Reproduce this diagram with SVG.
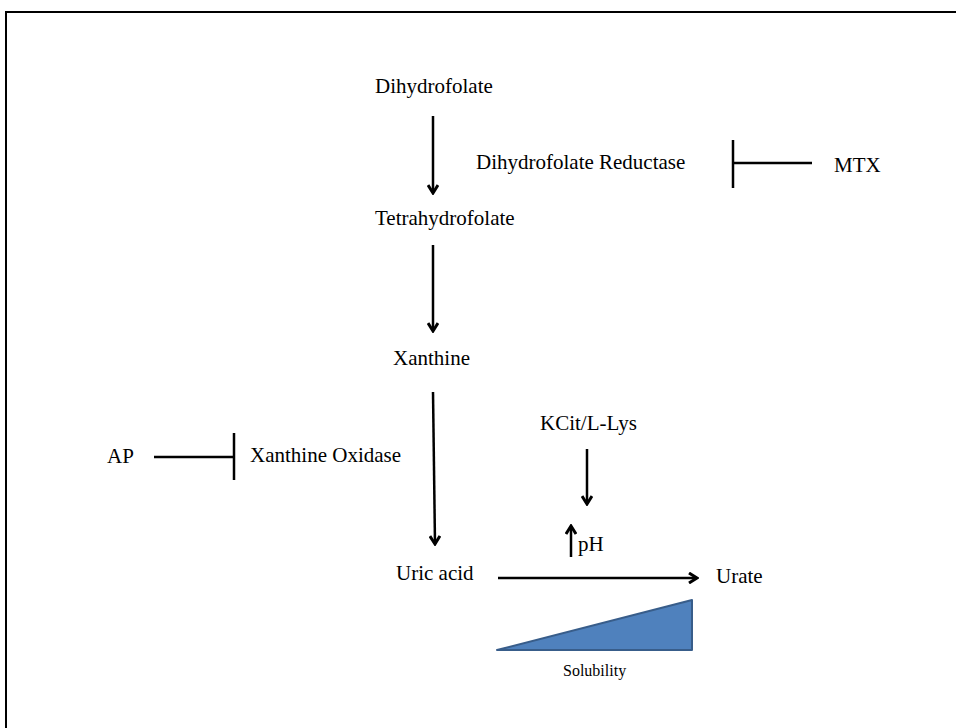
<svg xmlns="http://www.w3.org/2000/svg" width="956" height="728" viewBox="0 0 956 728">
<style>
text{font-family:"Liberation Serif","Times New Roman",serif;font-size:21px;fill:#000}
.small{font-size:16px}
.ln{stroke:#000;stroke-width:2.5;fill:none}
</style>
<defs>
<marker id="ah" viewBox="0 0 12 12" refX="10" refY="6" markerWidth="12" markerHeight="12" markerUnits="userSpaceOnUse" orient="auto">
<path d="M2,1 L10,6 L2,11" fill="none" stroke="#000" stroke-width="3"/>
</marker>
</defs>
<rect width="956" height="728" fill="#fff"/>
<path d="M6,728 V12 H960" fill="none" stroke="#000" stroke-width="2"/>
<g id="n-dhf"><text x="375" y="93">Dihydrofolate</text></g>
<g id="n-thf"><text x="375" y="225">Tetrahydrofolate</text></g>
<g id="n-xan"><text x="393" y="365">Xanthine</text></g>
<g id="n-dhfr"><text x="476" y="169">Dihydrofolate  Reductase</text></g>
<g id="n-mtx"><text x="834" y="172">MTX</text></g>
<g id="n-ap"><text x="107" y="463">AP</text></g>
<g id="n-xo"><text x="250" y="462">Xanthine Oxidase</text></g>
<g id="n-kcit"><text x="540" y="430">KCit/L-Lys</text></g>
<g id="n-ph"><text x="578" y="551">pH</text></g>
<g id="n-uric"><text x="396" y="580">Uric acid</text></g>
<g id="n-urate"><text x="716" y="583">Urate</text></g>
<g id="n-sol">
<polygon points="497,650 692,600 692,650" fill="#4F81BD" stroke="#385D8A" stroke-width="2" stroke-linejoin="round"/>
<text class="small" x="563" y="676">Solubility</text>
</g>
<g id="connectors">
<line class="ln" x1="433" y1="116" x2="433" y2="193" marker-end="url(#ah)"/>
<line class="ln" x1="433" y1="245" x2="433" y2="331" marker-end="url(#ah)"/>
<line class="ln" x1="433" y1="392" x2="435" y2="544" marker-end="url(#ah)"/>
<line class="ln" x1="587" y1="449" x2="587" y2="504" marker-end="url(#ah)"/>
<line class="ln" x1="571" y1="557" x2="571" y2="526" marker-end="url(#ah)"/>
<line class="ln" x1="498" y1="578" x2="697" y2="578" marker-end="url(#ah)"/>
<line class="ln" x1="812" y1="163" x2="733" y2="163"/>
<line class="ln" x1="733" y1="140" x2="733" y2="188"/>
<line class="ln" x1="154" y1="457" x2="234" y2="457"/>
<line class="ln" x1="234" y1="433" x2="234" y2="480"/>
</g>
</svg>
